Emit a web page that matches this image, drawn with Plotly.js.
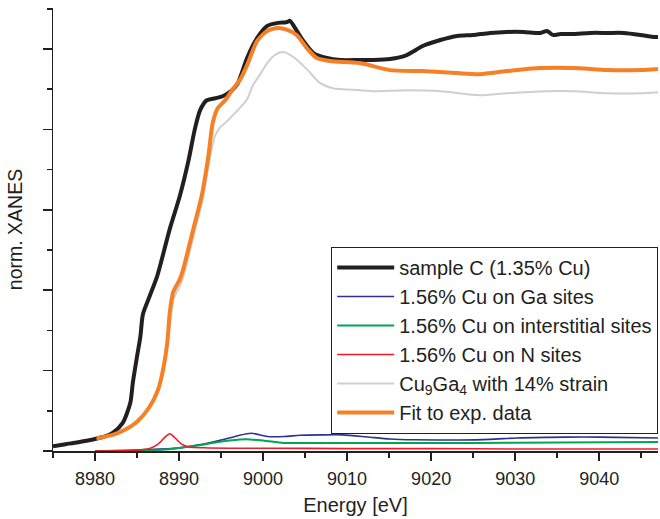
<!DOCTYPE html>
<html>
<head>
<meta charset="utf-8">
<script src="https://cdn.plot.ly/plotly-3.0.1.min.js"></script>
<style>html,body{margin:0;padding:0;background:#fff;}#plot{width:660px;height:519px;}</style>
</head>
<body>
<div id="plot"></div>
<script>
// ---- data ----
const sampleE = [8975.0, 8976.5, 8978.0, 8980.0, 8981.3, 8982.1, 8983.3, 8984.2, 8984.5, 8985.0, 8985.4, 8985.7, 8986.5, 8987.4, 8988.9, 8990.1, 8991.1, 8991.9, 8992.5, 8993.3, 8994.3, 8995.2, 8996.3, 8997.0, 8998.1, 8999.3, 9000.5, 9001.8, 9002.6, 9002.9, 9003.2, 9003.8, 9004.8, 9006.0, 9007.6, 9009.2, 9011.5, 9013.1, 9015.1, 9017.1, 9019.0, 9021.1, 9023.1, 9025.0, 9027.0, 9029.0, 9031.0, 9033.0, 9033.8, 9034.5, 9035.4, 9036.9, 9038.9, 9041.0, 9042.9, 9044.9, 9046.4, 9047.0];
const sampleV = [0.012, 0.017, 0.022, 0.030, 0.037, 0.045, 0.070, 0.120, 0.170, 0.235, 0.285, 0.340, 0.385, 0.435, 0.5525, 0.635, 0.720, 0.8025, 0.8475, 0.8725, 0.8775, 0.8825, 0.8975, 0.915, 0.9775, 1.0275, 1.0575, 1.065, 1.066, 1.0675, 1.070, 1.0525, 1.020, 0.990, 0.9775, 0.9725, 0.9725, 0.9725, 0.975, 0.985, 1.0075, 1.0225, 1.0325, 1.035, 1.040, 1.0425, 1.0425, 1.040, 1.045, 1.035, 1.0375, 1.0375, 1.040, 1.040, 1.040, 1.035, 1.030, 1.030];

const gaE = [8980, 8984, 8987, 8989, 8990.5, 8992, 8993.5, 8995, 8997, 8998.6, 9000.5, 9002.5, 9004.4, 9007, 9009.5, 9012.4, 9015.1, 9018, 9023.5, 9027, 9030.2, 9034, 9038.1, 9042, 9047];
const gaV = [0, 0.002, 0.004, 0.006, 0.009, 0.014, 0.020, 0.027, 0.038, 0.044, 0.036, 0.036, 0.039, 0.040, 0.040, 0.035, 0.030, 0.028, 0.0275, 0.029, 0.0325, 0.034, 0.035, 0.034, 0.0325];

const intE = [8980, 8986, 8988, 8990, 8992, 8994.5, 8996, 8998, 9000, 9002.4, 9004, 9008, 9015, 9025, 9035, 9047];
const intV = [0, 0.001, 0.003, 0.0075, 0.013, 0.022, 0.026, 0.029, 0.026, 0.020, 0.020, 0.020, 0.020, 0.020, 0.021, 0.0225];

const nE = [8980, 8985, 8986.5, 8987.5, 8988.3, 8988.9, 8989.5, 8990.3, 8991.2, 8993, 8996, 9000, 9010, 9020, 9030, 9047];
const nV = [0, 0.002, 0.006, 0.017, 0.034, 0.043, 0.033, 0.017, 0.010, 0.008, 0.007, 0.007, 0.006, 0.006, 0.005, 0.005];

const strainE = [8980.2, 8982.1, 8983.5, 8985.0, 8986.5, 8987.5, 8988.1, 8988.6, 8989.0, 8989.4, 8990.2, 8990.6, 8991.8, 8992.8, 8993.6, 8994.3, 8994.9, 8995.7, 8996.4, 8997.3, 8998.1, 8998.8, 8999.6, 9000.5, 9001.4, 9002.4, 9003.6, 9005.2, 9006.8, 9008.3, 9011.5, 9013.1, 9017.1, 9021.1, 9025.8, 9029.0, 9033.8, 9036.9, 9041.0, 9044.9, 9047.0];
const strainV = [0.030, 0.038, 0.050, 0.070, 0.107, 0.148, 0.195, 0.260, 0.330, 0.380, 0.415, 0.440, 0.540, 0.625, 0.720, 0.785, 0.805, 0.820, 0.835, 0.855, 0.875, 0.910, 0.935, 0.965, 0.985, 0.9925, 0.980, 0.950, 0.915, 0.9025, 0.8975, 0.895, 0.8975, 0.895, 0.885, 0.890, 0.895, 0.895, 0.890, 0.890, 0.8925];

const fitE = [8980.2, 8982.1, 8983.5, 8985.0, 8986.5, 8987.5, 8988.1, 8988.6, 8988.9, 8989.3, 8990.1, 8990.5, 8991.7, 8992.7, 8993.5, 8994.0, 8994.6, 8995.5, 8996.4, 8997.3, 8998.1, 8999.3, 9000.5, 9001.8, 9002.9, 9004.0, 9005.2, 9006.4, 9008.0, 9011.5, 9015.1, 9019.0, 9023.1, 9025.8, 9029.0, 9033.0, 9036.9, 9041.0, 9044.9, 9047.0];
const fitV = [0.032, 0.040, 0.052, 0.0725, 0.110, 0.1525, 0.2025, 0.270, 0.345, 0.395, 0.4275, 0.4525, 0.5525, 0.635, 0.735, 0.815, 0.8525, 0.8725, 0.900, 0.925, 0.960, 1.020, 1.045, 1.0525, 1.0475, 1.035, 1.0025, 0.9775, 0.970, 0.965, 0.9475, 0.945, 0.940, 0.9375, 0.945, 0.9525, 0.9525, 0.9475, 0.9475, 0.950];

const names = ["sample C (1.35% Cu)", "1.56% Cu on Ga sites", "1.56% Cu on interstitial sites", "1.56% Cu on N sites", "Cu<sub>9</sub>Ga<sub>4</sub> with 14% strain", "Fit to exp. data"];

// ---- traces ----
const FONT = '"Liberation Sans", Arial, Helvetica, sans-serif';
const INK = '#231f20';
function tr(x, y, name, color, width) {
  return {x: x, y: y, name: name, type: 'scatter', mode: 'lines',
          line: {color: color, width: width, shape: 'spline', smoothing: 0.7},
          hoverinfo: 'skip'};
}
const data = [
  tr(sampleE, sampleV, names[0], '#231f20', 4),
  tr(gaE, gaV, names[1], '#2e3192', 1.6),
  tr(intE, intV, names[2], '#00a651', 2),
  tr(nE, nV, names[3], '#ed1c24', 1.6),
  tr(strainE, strainV, names[4], '#cfcfcf', 2),
  tr(fitE, fitV, names[5], '#f58025', 4)
];

const XR = [8975, 9047], YR = [0, 1.102];
const layout = {
  width: 660, height: 519,
  margin: {l: 53, r: 2, t: 8, b: 68},
  paper_bgcolor: '#fff', plot_bgcolor: '#fff',
  font: {family: FONT, color: INK, size: 18},
  showlegend: true,
  legend: {x: 1, xanchor: 'right', y: 0.25, yanchor: 'middle',
           bgcolor: '#fff', bordercolor: INK, borderwidth: 1.2,
           font: {family: FONT, size: 20, color: INK},
           itemwidth: 57, tracegroupgap: 0},
  xaxis: {range: XR, showgrid: false, zeroline: false,
          showline: true, linecolor: INK, linewidth: 1.5,
          ticks: 'outside', ticklen: 8, tickwidth: 1.5, tickcolor: INK,
          tick0: 8980, dtick: 10, ticklabelstandoff: 3,
          minor: {ticks: 'outside', ticklen: 5, tickwidth: 1.5, tickcolor: INK, dtick: 5, tick0: 8975, showgrid: false},
          tickfont: {size: 18, family: FONT, color: INK},
          title: {text: 'Energy [eV]', font: {size: 20, family: FONT, color: INK}, standoff: 10}},
  xaxis2: {range: XR, overlaying: 'x', side: 'top', anchor: 'y',
           showgrid: false, zeroline: false, showticklabels: false,
           showline: true, linecolor: INK, linewidth: 1.5,
           ticks: 'inside', ticklen: 9, tickwidth: 1.5, tickcolor: INK,
           tick0: 8980, dtick: 10,
           minor: {ticks: 'inside', ticklen: 6, tickwidth: 1.5, tickcolor: INK, dtick: 5, tick0: 8975, showgrid: false}},
  yaxis: {range: YR, showgrid: false, zeroline: false, showticklabels: false,
          showline: true, linecolor: INK, linewidth: 1.5,
          ticks: 'outside', ticklen: 9, tickwidth: 1.5, tickcolor: INK,
          tick0: 0, dtick: 0.2,
          minor: {ticks: 'outside', ticklen: 5, tickwidth: 1.5, tickcolor: INK, dtick: 0.1, showgrid: false},
          title: {text: 'norm. XANES', font: {size: 19.5, family: FONT, color: INK}, standoff: 14}},
  yaxis2: {range: YR, overlaying: 'y', side: 'right', anchor: 'x',
           showgrid: false, zeroline: false, showticklabels: false,
           showline: true, linecolor: INK, linewidth: 1.5,
           ticks: 'inside', ticklen: 9, tickwidth: 1.5, tickcolor: INK,
           tick0: 0, dtick: 0.2,
           minor: {ticks: 'inside', ticklen: 5, tickwidth: 1.5, tickcolor: INK, dtick: 0.1, showgrid: false}}
};

Plotly.newPlot('plot', data, layout, {staticPlot: true, displayModeBar: false});
</script>
</body>
</html>
